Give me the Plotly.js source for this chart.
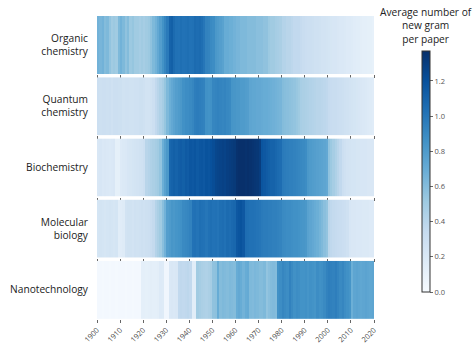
<!DOCTYPE html>
<html>
<head>
<meta charset="utf-8">
<script src="https://cdn.plot.ly/plotly-3.0.1.min.js"></script>
<style>html,body{margin:0;padding:0;background:#fff;}#chart{width:475px;height:345px;}</style>
</head>
<body>
<div id="chart"></div>
<script>
// Year bin edges 1900..2020 (120 yearly bins)
const yearEdges = [];
for (let y = 1900; y <= 2020; y++) yearEdges.push(y);

const fields = ["Organic<br>chemistry", "Quantum<br>chemistry", "Biochemistry", "Molecular<br>biology", "Nanotechnology"];

const organic = [
 0.66,0.64,0.66,0.60,0.62,
 0.55,0.50,0.52,0.50,0.62,
 0.66,0.62,0.56,0.60,0.52,0.54,
 0.50,0.50,0.48,0.50,0.48,0.50,0.52,0.56,
 0.62,0.66,0.72,0.78,
 0.85,0.92,0.98,
 1.10,1.12,1.06,
 1.03,1.02,1.04,1.02,1.03,1.04,1.02,1.03,
 1.06,1.05,1.06,1.04,1.00,
 0.94,0.93,0.90,0.88,
 0.82,0.80,0.78,0.76,
 0.70,0.70,0.68,0.68,0.66,
 0.64,0.64,0.62,0.62,0.62,0.60,0.60,0.60,0.60,0.58,0.58,0.58,0.56,0.56,
 0.52,0.50,0.50,0.48,0.47,0.46,
 0.42,0.42,0.40,0.40,0.38,0.36,0.36,0.36,0.34,
 0.32,0.31,0.30,0.30,0.29,0.28,0.28,0.27,0.26,0.26,0.25,
 0.24,0.23,0.22,0.22,0.21,0.20,0.20,0.19,0.18,0.18,0.17,0.16,0.15,0.15,0.14,0.13,0.13,0.12,0.12,0.11
];

const quantum = [
 0.30,0.29,0.30,0.30,0.29,0.30,0.28,0.30,0.30,0.29,0.29,0.27,0.28,0.28,0.27,0.27,0.28,0.28,0.29,0.29,0.28,
 0.26,0.26,0.27,0.30,
 0.36,0.40,0.44,0.48,0.54,
 0.62,0.68,0.72,0.75,0.78,0.80,0.82,
 0.86,0.88,0.88,0.90,0.92,
 0.96,0.97,0.96,0.95,0.94,
 0.86,0.85,0.86,
 0.92,0.93,0.94,0.93,0.92,0.93,0.91,0.90,
 0.84,0.83,0.82,0.82,0.80,0.80,0.79,0.78,
 0.74,0.73,0.73,0.72,0.72,0.71,0.70,0.70,0.69,0.68,0.67,0.66,0.65,0.64,
 0.60,0.59,0.58,0.57,0.56,0.55,0.53,0.51,
 0.47,0.46,0.45,0.44,0.43,0.42,0.41,0.40,0.40,0.39,0.38,0.37,
 0.34,0.33,0.32,0.32,0.31,0.30,0.29,0.28,0.27,0.26,0.25,0.24,0.23,0.22,0.21,0.20,0.19,0.18,0.17,0.16
];

const biochem = [
 0.21,0.22,0.20,0.21,0.20,0.19,0.20,0.21,
 0.12,0.12,
 0.18,0.19,0.20,0.22,0.23,0.24,0.25,0.26,0.27,0.28,0.30,
 0.40,0.42,0.44,0.46,0.48,0.50,0.55,
 0.68,0.76,0.82,
 1.08,1.10,1.12,1.10,1.13,1.14,1.12,1.15,1.14,
 1.17,1.16,1.18,1.15,1.17,1.18,1.16,1.19,1.18,1.20,1.22,
 1.25,1.26,1.27,1.28,1.27,1.29,1.30,1.31,1.32,
 1.36,1.37,1.37,1.37,1.36,1.37,1.36,1.35,1.34,1.33,1.30,
 1.18,1.16,1.14,1.12,1.10,1.10,1.08,1.06,1.05,
 0.98,0.97,0.96,0.95,0.95,0.94,0.93,0.92,0.91,0.90,0.88,
 0.82,0.80,0.79,0.78,0.77,0.76,0.75,0.74,0.72,
 0.56,0.52,0.48,0.44,0.40,0.36,
 0.30,0.28,0.26,0.25,0.24,0.24,0.23,0.23,0.22,0.22,0.22,0.21,0.21,0.21
];

const molecular = [
 0.24,0.25,0.24,0.23,0.24,0.25,0.24,0.23,0.24,
 0.15,0.16,0.17,
 0.26,0.27,0.27,0.26,0.28,0.27,0.28,0.29,0.28,0.29,0.30,0.32,0.35,
 0.42,0.46,0.50,0.58,0.66,
 0.78,0.80,0.83,0.82,0.84,0.85,0.86,
 0.90,0.91,0.92,0.94,
 1.02,1.03,1.01,1.04,1.03,1.02,1.00,1.03,1.04,1.02,1.03,1.01,1.04,1.05,1.03,1.06,1.05,1.07,1.08,
 1.16,1.18,1.19,1.16,
 1.05,1.04,1.03,1.03,1.02,1.01,1.00,
 0.98,0.97,0.97,0.96,0.96,0.95,0.95,0.94,0.93,
 0.90,0.89,0.88,0.88,0.87,0.86,0.86,0.85,0.84,0.83,0.82,
 0.76,0.74,0.72,0.70,0.68,0.65,0.62,0.58,0.55,
 0.40,0.37,0.35,0.34,0.33,0.32,0.31,0.30,0.28,
 0.22,0.21,0.21,0.20,0.20,0.20,0.19,0.19,0.19,0.18,0.18
];

const nano = [
 0.03,0.03,0.02,0.03,0.03,0.02,0.03,0.03,0.02,0.03,0.03,0.03,0.02,0.03,0.03,0.02,0.03,0.03,0.03,
 0.13,0.13,0.12,0.13,0.14,0.13,0.13,0.14,
 0.18,0.17,
 0.05,0.05,
 0.20,0.21,0.20,0.21,
 0.36,0.37,0.36,0.37,0.38,0.36,
 0.15,0.15,
 0.50,0.48,0.46,0.45,0.44,0.46,0.48,
 0.56,0.57,
 0.70,
 0.60,0.62,0.61,0.60,0.62,0.61,0.60,
 0.70,0.72,0.70,0.66,0.70,0.71,
 0.62,0.61,0.63,0.62,
 0.60,0.60,0.62,0.55,0.58,0.60,0.61,0.60,
 0.86,0.88,0.92,0.90,0.88,0.94,0.90,0.86,0.88,0.87,0.85,
 0.85,0.86,0.84,0.86,0.85,0.84,0.88,0.86,0.87,0.90,
 0.94,0.96,0.95,0.94,0.96,0.93,0.90,0.92,0.88,0.86,0.84,
 0.68,
 0.74,0.75,0.74,0.73,0.74,0.75,0.74,0.73,0.74
];

const seriesList = [organic, quantum, biochem, molecular, nano];
const tickYears = [1900,1910,1920,1930,1940,1950,1960,1970,1980,1990,2000,2010,2020];
const colorbarTicks = [0, 0.2, 0.4, 0.6, 0.8, 1.0, 1.2];

const blues = [
 [0.0, '#f7fbff'], [0.125, '#deebf7'], [0.25, '#c6dbef'], [0.375, '#9ecae1'],
 [0.5, '#6baed6'], [0.625, '#4292c6'], [0.75, '#2171b5'], [0.875, '#08519c'], [1.0, '#08306b']
];
const zMax = 1.37;

const FONT = '"Open Sans", "DejaVu Sans", sans-serif';
const n = fields.length;
const gap = 0.01;
const h = (1 - gap * (n - 1)) / n;

const traces = [];
const layout = {
  width: 475, height: 345,
  margin: {l: 97, r: 101, t: 16, b: 26},
  paper_bgcolor: '#fff', plot_bgcolor: '#fff',
  font: {family: FONT, color: '#222'},
  showlegend: false,
  annotations: [{
    text: 'Average number of<br>new gram<br>per paper',
    xref: 'paper', yref: 'paper', x: 1.188, y: 1.043,
    xanchor: 'center', yanchor: 'top', showarrow: false,
    font: {family: FONT, size: 10.2, color: '#222'}
  }]
};

for (let i = 0; i < n; i++) {
  const k = i === 0 ? '' : String(i + 1);
  const top = 1 - i * (h + gap);
  traces.push({
    type: 'heatmap',
    x: yearEdges,
    y: [fields[i]],
    z: [seriesList[i]],
    xaxis: 'x' + k, yaxis: 'y' + k,
    colorscale: blues, zmin: 0, zmax: zMax,
    showscale: i === 0,
    colorbar: {
      x: 1.173, xanchor: 'left', xpad: 0, y: 0.089, yanchor: 'bottom', ypad: 0,
      len: 0.796, lenmode: 'fraction', thickness: 8,
      outlinewidth: 1, outlinecolor: '#333',
      ticks: 'outside', ticklen: 3, tickcolor: '#666',
      tickvals: colorbarTicks, tickformat: '.1f',
      tickfont: {family: FONT, size: 7.5, color: '#555'}
    },
    hoverinfo: 'skip'
  });
  layout['xaxis' + k] = {
    anchor: 'y' + k, domain: [0, 1], range: [1900, 2020],
    tickvals: tickYears, ticks: 'outside', ticklen: 3, tickwidth: 1, tickcolor: '#666',
    showticklabels: i === n - 1, tickangle: -45,
    tickfont: {family: FONT, size: 7.4, color: '#444'},
    showgrid: false, zeroline: false, showline: false, fixedrange: true
  };
  layout['yaxis' + k] = {
    anchor: 'x' + k, domain: [Math.max(0, top - h), top],
    type: 'category', ticks: 'outside', ticklen: 6, tickcolor: 'rgba(0,0,0,0)',
    tickfont: {family: FONT, size: 10.2, color: '#222'},
    showgrid: false, zeroline: false, showline: false, fixedrange: true
  };
}

Plotly.newPlot('chart', traces, layout, {displayModeBar: false, staticPlot: true});
</script>
</body>
</html>
